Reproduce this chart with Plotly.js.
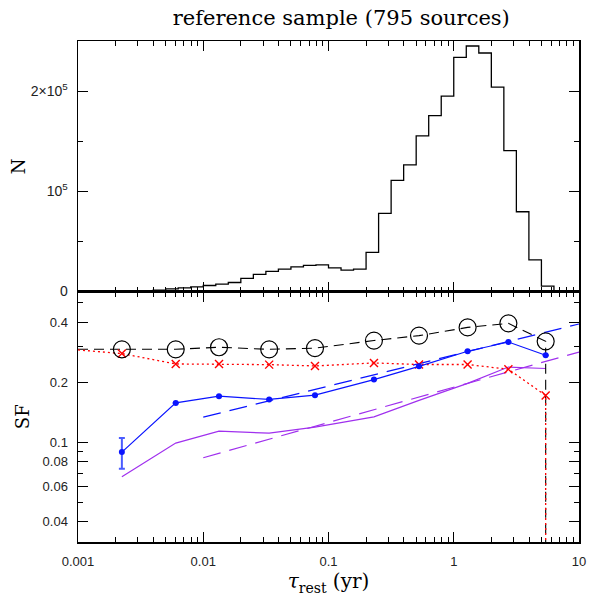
<!DOCTYPE html>
<html>
<head>
<meta charset="utf-8">
<script src="https://cdn.plot.ly/plotly-3.0.1.min.js"></script>
<style>html,body{margin:0;padding:0;background:#fff;}#chart{width:601px;height:596px;}</style>
</head>
<body>
<div id="chart"></div>
<script>
// Histogram: bin edges as log10(tau) exponents, counts per bin
const histEdgeExp = [-2.4,-2.3,-2.2,-2.1,-2.0,-1.9,-1.8,-1.7,-1.6,-1.5,-1.4,-1.3,-1.2,-1.1,-1.0,-0.9,-0.8,-0.7,-0.6,-0.5,-0.4,-0.3,-0.2,-0.1,0.0,0.1,0.2,0.3,0.4,0.5,0.6,0.7,0.8];
const histCounts = [1300,2600,3600,4600,6000,7300,9000,13000,17000,20000,22300,24600,26000,26600,23600,21300,22300,39000,78000,111000,126300,155300,175600,195000,233600,245000,238000,204000,140600,79600,31600,5300];

// Structure function points
const tauSF = [0.00224,0.00603,0.01336,0.0336,0.078,0.2306,0.528,1.29,2.73,5.42];
const sfBlack = [0.292,0.292,0.299,0.292,0.296,0.323,0.342,0.376,0.394,0.320];
const sfRed = [0.278,0.2466,0.2462,0.2447,0.241,0.2495,0.245,0.245,0.232,0.1714];
const sfBlue = [0.0892,0.1574,0.170,0.1637,0.172,0.206,0.240,0.2855,0.3177,0.2726];
const sfBlueErrPlus = [0.0158,0,0,0,0,0,0,0,0,0];
const sfBlueErrMinus = [0.0155,0,0,0,0,0,0,0,0,0];
const sfPurple = [0.0671,0.099,0.1136,0.111,0.119,0.134,0.162,0.197,0.238,0.234];
// line ends (start at left edge, drop at last lag)
const blackStart = [0.001, 0.292];
const redStart = [0.001, 0.290];
const dropEnd = 0.001;
// power-law fits
const fitX = [0.01, 10];
const fitBlue = [0.1335, 0.391];
const fitPurple = [0.0836, 0.283];

// tick labels
const xTickVals = [0.001,0.01,0.1,1,10];
const xTickText = ['0.001','0.01','0.1','1','10'];
const xMinorVals = [0.002,0.003,0.004,0.005,0.006,0.007,0.008,0.009,
                    0.02,0.03,0.04,0.05,0.06,0.07,0.08,0.09,
                    0.2,0.3,0.4,0.5,0.6,0.7,0.8,0.9,
                    2,3,4,5,6,7,8,9];
const nTickVals = [0, 100000, 200000];
const nTickText = ['0','10<sup>5</sup>','2×10<sup>5</sup>'];
const nMinorVals = [50000, 150000];
const sfTickVals = [0.04,0.06,0.08,0.1,0.2,0.4];
const sfTickText = ['0.04','0.06','0.08','0.1','0.2','0.4'];
const sfMinorVals = [0.05,0.07,0.09,0.3,0.5];

// histogram outline
const hx = [Math.pow(10, histEdgeExp[0])];
const hy = [0];
for (let i=0;i<histCounts.length;i++){ hx.push(Math.pow(10, histEdgeExp[i])); hy.push(histCounts[i]); }
hx.push(Math.pow(10, histEdgeExp[histEdgeExp.length-1])); hy.push(0);

const lastTau = tauSF[tauSF.length-1];
const blackLineX = [blackStart[0]].concat(tauSF, [lastTau]);
const blackLineY = [blackStart[1]].concat(sfBlack, [dropEnd]);
const redLineX = [redStart[0]].concat(tauSF, [lastTau]);
const redLineY = [redStart[1]].concat(sfRed, [dropEnd]);

const purple = '#a030ee';
const blue = '#0a14ff';

const traces = [
  {x: hx, y: hy, xaxis:'x2', yaxis:'y2', mode:'lines', line:{shape:'hv', color:'#000', width:1.3}, hoverinfo:'skip'},
  {x: fitX, y: fitPurple, mode:'lines', line:{color:purple, width:1.2, dash:'18px,9px'}},
  {x: tauSF, y: sfPurple, mode:'lines', line:{color:purple, width:1.2}},
  {x: fitX, y: fitBlue, mode:'lines', line:{color:blue, width:1.2, dash:'18px,9px'}},
  {x: blackLineX, y: blackLineY, mode:'lines', line:{color:'#000', width:1.1, dash:'10px,6px'}},
  {x: redLineX, y: redLineY, mode:'lines', line:{color:'#ff0000', width:1.3, dash:'2px,3px'}},
  {x: tauSF, y: sfRed, mode:'markers', marker:{symbol:'x-thin-open', size:8, color:'#ff0000', line:{color:'#ff0000', width:1.4}}},
  {x: tauSF, y: sfBlue, mode:'lines+markers', line:{color:blue, width:1.2}, marker:{color:blue, size:6},
   error_y:{type:'data', symmetric:false, array:sfBlueErrPlus, arrayminus:sfBlueErrMinus, color:'#4a5cff', thickness:2, width:3}},
  {x: tauSF, y: sfBlack, mode:'markers', marker:{symbol:'circle-open', size:17, color:'#000', line:{color:'#000', width:1.2}}}
];

const tickFont = {family:'Liberation Sans, Arial, sans-serif', size:13, color:'#222'};
const titleFont = {family:'DejaVu Serif, serif', size:18, color:'#000'};

const xCommon = {
  type:'log', range:[-3,1], showline:true, linecolor:'#000', linewidth:1.5, mirror:'ticks',
  ticks:'inside', ticklen:10, tickwidth:1, tickcolor:'#000', tickmode:'array', tickvals:xTickVals,
  showgrid:false, zeroline:false,
  minor:{tickmode:'array', tickvals:xMinorVals, ticks:'inside', ticklen:5, tickwidth:1, tickcolor:'#000', showgrid:false}
};

const layout = {
  width:601, height:596,
  margin:{l:78, r:22, t:41, b:54},
  paper_bgcolor:'#fff', plot_bgcolor:'#fff',
  showlegend:false,
  title:{text:'reference sample (795 sources)', font:{family:'DejaVu Serif, serif', size:21, color:'#000'},
         x:0.2874, xref:'container', xanchor:'left', y:0.97, yref:'container', yanchor:'middle'},
  xaxis: Object.assign({}, xCommon, {anchor:'y', ticktext:xTickText, tickfont:tickFont, ticklabelstandoff:7,
         title:{text:'<i>τ</i><sub>rest</sub> (yr)', font:{family:'DejaVu Serif, serif', size:20, color:'#000'}, standoff:6}}),
  xaxis2: Object.assign({}, xCommon, {anchor:'y2', matches:'x', showticklabels:false}),
  yaxis: {domain:[0,0.5], type:'log', range:[-1.5,-0.245], showline:true, linecolor:'#000', linewidth:1.5, mirror:'ticks',
    ticks:'inside', ticklen:10, tickwidth:1, tickcolor:'#000', tickmode:'array', tickvals:sfTickVals, ticktext:sfTickText,
    tickfont:tickFont, ticklabelstandoff:6, showgrid:false, zeroline:false,
    minor:{tickmode:'array', tickvals:sfMinorVals, ticks:'inside', ticklen:5, tickwidth:1, tickcolor:'#000', showgrid:false},
    title:{text:'SF', font:titleFont, standoff:8}},
  yaxis2: {domain:[0.5,1], anchor:'x2', range:[0,250000], showline:true, linecolor:'#000', linewidth:1.5, mirror:'ticks',
    ticks:'inside', ticklen:10, tickwidth:1, tickcolor:'#000', tickmode:'array', tickvals:nTickVals, ticktext:nTickText,
    tickfont:Object.assign({}, tickFont, {size:14}), ticklabelstandoff:6, showgrid:false, zeroline:false,
    minor:{tickmode:'array', tickvals:nMinorVals, ticks:'inside', ticklen:5, tickwidth:1, tickcolor:'#000', showgrid:false},
    title:{text:'N', font:titleFont, standoff:0}}
};

Plotly.newPlot('chart', traces, layout, {staticPlot:true, displayModeBar:false});
</script>
</body>
</html>
